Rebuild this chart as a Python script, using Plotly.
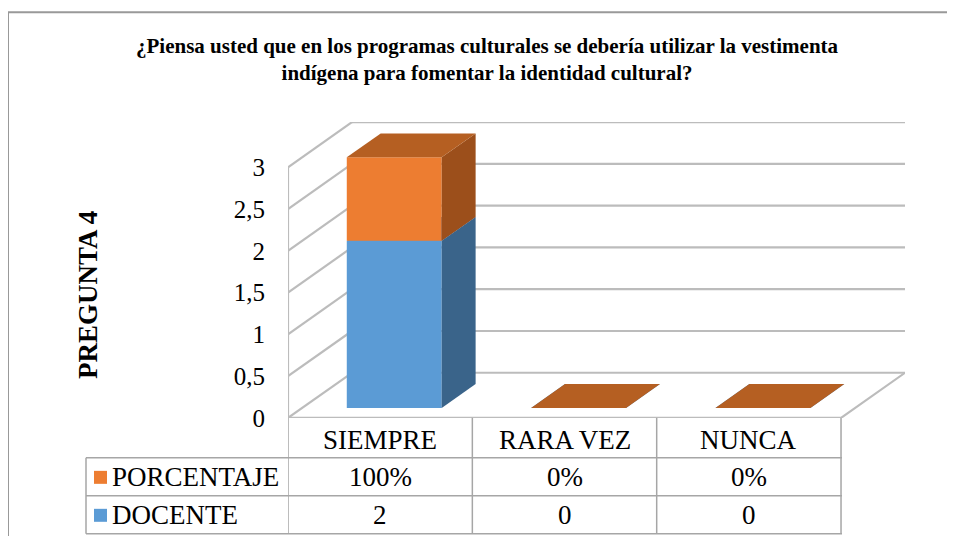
import plotly.graph_objects as go

# data
categories = ["SIEMPRE", "RARA VEZ", "NUNCA"]
docente = [2, 0, 0]
porcentaje = [1.0, 0.0, 0.0]  # 100% plotted as 1
y_ticks = [0, 0.5, 1, 1.5, 2, 2.5, 3]
y_tick_text = ["0", "0,5", "1", "1,5", "2", "2,5", "3"]

series = [
    dict(name="DOCENTE", values=docente, front="#5b9bd5", side="#3a648a", top="#4a7fb0",
         cells=[str(v) for v in docente]),
    dict(name="PORCENTAJE", values=porcentaje, front="#ed7d31", side="#9c4f1b", top="#b55f22",
         cells=[f"{v:.0%}" for v in porcentaje]),
]

# page: 8px body margin; the photo squeezes the page height a little
OFF = 8
PAGE_H = 558
SY = PAGE_H / 544
W, H = 955 - 2 * OFF, PAGE_H - 2 * OFF
FONT = "Liberation Serif"

# pseudo 3d geometry (data units)
DX, DY = 0.347, 0.54      # floor depth
F0, F1 = 0.22, 0.75       # bar front/back depth fraction
BW = 0.515                # bar width
XL, XR = -0.5, len(categories) - 0.5
YMAX = y_ticks[-1]


def py(px):
    return 1 - (px * SY - OFF) / H


def pxx(px):
    return (px - OFF) / W


def poly(xs, ys, color):
    return go.Scatter(x=xs + xs[:1], y=ys + ys[:1], fill="toself", fillcolor=color,
                      mode="lines", line=dict(width=0), hoverinfo="skip", showlegend=False)


fig = go.Figure()

# walls and floor
gx, gy = [], []
for v in y_ticks:
    gx += [XL + DX, XR + DX, None, XL, XL + DX, None]
    gy += [v + DY, v + DY, None, v, v + DY, None]
gx += [XL, XL, None, XL, XR, XR + DX, None]
gy += [0, YMAX, None, 0, 0, DY, None]
fig.add_trace(go.Scatter(x=gx, y=gy, mode="lines", line=dict(color="#bcbcbc", width=2.2),
                         hoverinfo="skip", showlegend=False))

# stacked 3d columns: front, side, top for each series
ddx, ddy = (F1 - F0) * DX, (F1 - F0) * DY
cum = [0.0] * len(categories)
for s in series:
    for i, v in enumerate(s["values"]):
        xc = i + F0 * DX
        x0, x1 = xc - BW / 2, xc + BW / 2
        b = F0 * DY + cum[i]
        t = b + v
        if v > 0:
            fig.add_trace(poly([x0, x1, x1, x0], [b, b, t, t], s["front"]))
            fig.add_trace(poly([x1, x1 + ddx, x1 + ddx, x1], [b, b + ddy, t + ddy, t], s["side"]))
        fig.add_trace(poly([x0, x1, x1 + ddx, x0 + ddx], [t, t, t + ddy, t + ddy], s["top"]))
    cum = [c + v for c, v in zip(cum, s["values"])]

# data table
line = dict(color="#a6a6a6", width=1.5)
shapes = []
for xb in [XL + k for k in range(len(categories) + 1)]:
    shapes.append(dict(type="line", xref="x", yref="paper", x0=xb, x1=xb,
                       y0=py(418), y1=py(534), line=line))
for yb in [458, 496, 534]:
    shapes.append(dict(type="line", xref="paper", yref="paper", x0=pxx(86), x1=pxx(842),
                       y0=py(yb), y1=py(yb), line=line))
shapes.append(dict(type="line", xref="paper", yref="paper", x0=pxx(86), x1=pxx(86),
                   y0=py(458), y1=py(534), line=line))
# outer chart border (top and left edges only are in view)
border = dict(color="#999999", width=2)
shapes.append(dict(type="line", xref="paper", yref="paper", x0=pxx(8), x1=1,
                   y0=py(12), y1=py(12), line=border))
shapes.append(dict(type="line", xref="paper", yref="paper", x0=pxx(8), x1=pxx(8),
                   y0=0, y1=py(12), line=border))

txt = dict(family=FONT, size=27, color="black")
ann = []
for i, c in enumerate(categories):
    ann.append(dict(x=i, y=py(440), xref="x", yref="paper", text=c, showarrow=False,
                    xanchor="center", yanchor="middle", font=txt))
row_y = {"PORCENTAJE": 477, "DOCENTE": 515}
for s in series:
    yy = row_y[s["name"]]
    shapes.append(dict(type="rect", xref="paper", yref="paper", x0=pxx(94), x1=pxx(107),
                       y0=py(yy + 7), y1=py(yy - 6), fillcolor=s["front"], line=dict(width=0)))
    ann.append(dict(x=pxx(110), y=py(yy), xref="paper", yref="paper", text=s["name"],
                    xanchor="left", yanchor="middle", showarrow=False, font=txt))
    for i, t in enumerate(s["cells"]):
        ann.append(dict(x=i, y=py(yy), xref="x", yref="paper", text=t, showarrow=False,
                        xanchor="center", yanchor="middle", font=txt))

ann.append(dict(x=pxx(487), y=py(59), xref="paper", yref="paper", showarrow=False,
                xanchor="center", yanchor="middle",
                text="¿Piensa usted que en los programas culturales se debería utilizar la vestimenta<br>"
                     "indígena para fomentar la identidad cultural?",
                font=dict(family=FONT, size=21, color="black", weight="bold")))
ann.append(dict(x=pxx(88), y=py(295), xref="paper", yref="paper", showarrow=False,
                xanchor="center", yanchor="middle",
                text="PREGUNTA 4", textangle=-90,
                font=dict(family=FONT, size=27, color="black", weight="bold")))

fig.update_layout(
    width=W, height=H, margin=dict(l=0, r=0, t=0, b=0),
    paper_bgcolor="white", plot_bgcolor="white",
    xaxis=dict(range=[XL, XR + DX], domain=[pxx(288), pxx(905)], visible=False, fixedrange=True),
    yaxis=dict(range=[0, YMAX + DY], domain=[py(418), py(122)], showgrid=False, zeroline=False,
               showline=False, ticks="", tickvals=y_ticks, ticktext=y_tick_text,
               ticklabelstandoff=22, tickfont=dict(family=FONT, size=25, color="black"),
               fixedrange=True),
    shapes=shapes, annotations=ann,
)

fig.write_html("out.html", config={"displayModeBar": False})
